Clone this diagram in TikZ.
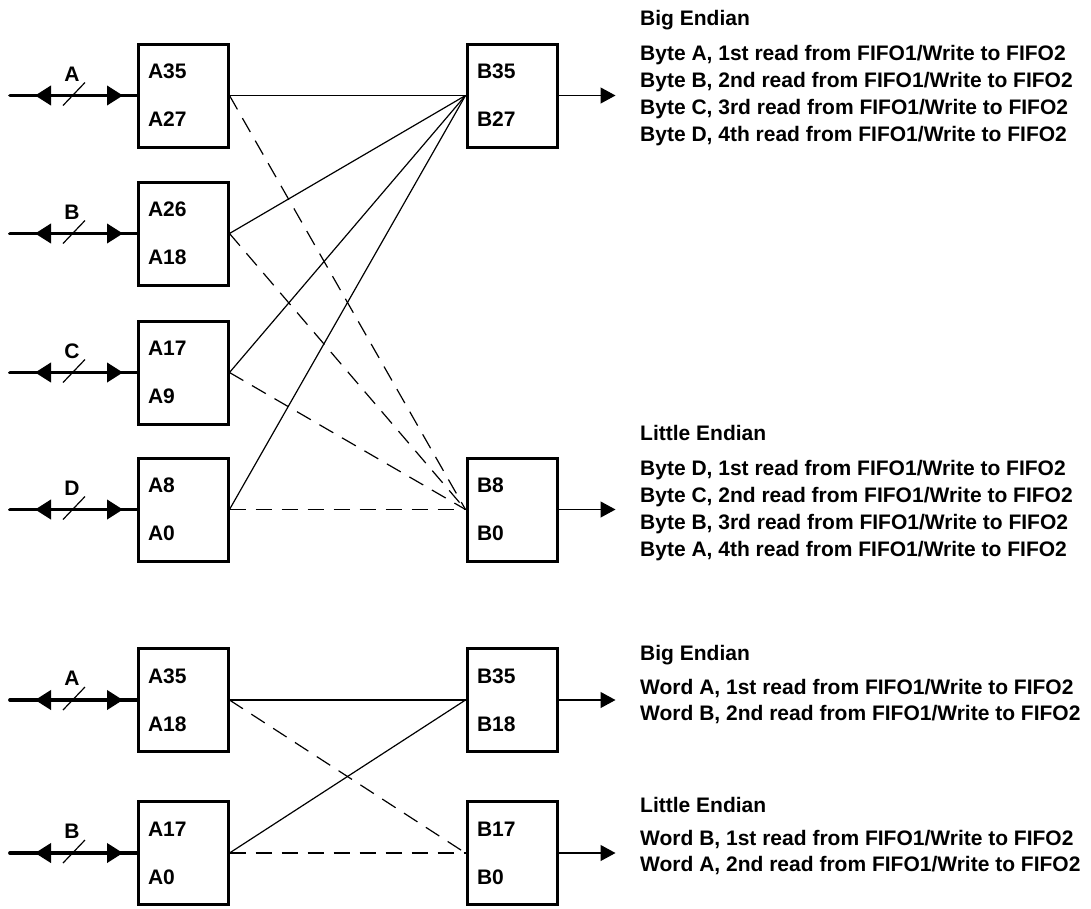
\documentclass[tikz,border=0pt]{standalone}
\usepackage{fontspec}
\setmainfont{Liberation Sans}
\usetikzlibrary{arrows.meta,decorations.markings}

\begin{document}
\begin{tikzpicture}[x=1pt, y=-1pt, >={Triangle[length=15pt,width=16pt]},
  every node/.style={font=\bfseries\fontsize{21}{48}\selectfont, inner sep=0pt},
  reg/.style={draw, line width=3pt, minimum height=103pt, text width=70pt, inner xsep=10pt, align=left},
  bus/.style={line width=3.8pt, line cap=round, postaction={decorate}, decoration={markings,
      mark=at position 25pt with {\arrowreversed{Triangle[length=16pt,width=19pt]}},
      mark=at position 113pt with {\arrow{Triangle[length=16pt,width=19pt]}}}},
  tick/.style={line width=1.2pt},
  wire/.style={line width=1.2pt},
  wired/.style={wire, dash pattern=on 16pt off 10pt},
  note/.style={anchor=base west}]
  \useasboundingbox (0,0) rectangle (1091,908);

  \node[reg] (inA) at (183,95.5) {A35\\A27};
  \node[reg] (inB) at (183,233.5) {A26\\A18};
  \node[reg] (inC) at (183,372.5) {A17\\A9};
  \node[reg] (inD) at (183,509.5) {A8\\A0};
  \node[reg] (outBig) at (512,95.5) {B35\\B27};
  \node[reg] (outLittle) at (512,509.5) {B8\\B0};

  \coordinate (busA) at (10,95.5);
  \coordinate (busB) at (10,233.5);
  \coordinate (busC) at (10,372.5);
  \coordinate (busD) at (10,509.5);
  \draw[bus] (busA) -- (inA.west);
  \draw[bus] (busB) -- (inB.west);
  \draw[bus] (busC) -- (inC.west);
  \draw[bus] (busD) -- (inD.west);
  \draw[tick] (busA) ++(53,10) -- ++(22,-23);
  \draw[tick] (busB) ++(53,10) -- ++(22,-23);
  \draw[tick] (busC) ++(53,10) -- ++(22,-23);
  \draw[tick] (busD) ++(53,10) -- ++(22,-23);
  \node[anchor=base] (labA) at ([shift={(62,-14.5)}]busA) {A};
  \node[anchor=base] (labB) at ([shift={(62,-14.5)}]busB) {B};
  \node[anchor=base] (labC) at ([shift={(62,-14.5)}]busC) {C};
  \node[anchor=base] (labD) at ([shift={(62,-14.5)}]busD) {D};

  \draw[wire] (inA.east) -- (outBig.west);
  \draw[wire] (inB.east) -- (outBig.west);
  \draw[wire] (inC.east) -- (outBig.west);
  \draw[wire] (inD.east) -- (outBig.west);
  \draw[wired] (inA.east) -- (outLittle.west);
  \draw[wired] (inB.east) -- (outLittle.west);
  \draw[wired] (inC.east) -- (outLittle.west);
  \draw[wired] (inD.east) -- (outLittle.west);
  \draw[wire,->] (outBig.east) -- ++(57,0);
  \draw[wire,->] (outLittle.east) -- ++(57,0);

  \node[note] (bigHead) at (640,25.5) {Big Endian};
  \node[note] (big1) at (640,60.5) {Byte A, 1st read from FIFO1/Write to FIFO2};
  \node[note] (big2) at (640,87.5) {Byte B, 2nd read from FIFO1/Write to FIFO2};
  \node[note] (big3) at (640,114.5) {Byte C, 3rd read from FIFO1/Write to FIFO2};
  \node[note] (big4) at (640,141.5) {Byte D, 4th read from FIFO1/Write to FIFO2};
  \node[note] (littleHead) at (640,440.5) {Little Endian};
  \node[note] (little1) at (640,475.5) {Byte D, 1st read from FIFO1/Write to FIFO2};
  \node[note] (little2) at (640,502.5) {Byte C, 2nd read from FIFO1/Write to FIFO2};
  \node[note] (little3) at (640,529.5) {Byte B, 3rd read from FIFO1/Write to FIFO2};
  \node[note] (little4) at (640,556.5) {Byte A, 4th read from FIFO1/Write to FIFO2};

  \node[reg] (winA) at (183,700) {A35\\A18};
  \node[reg] (winB) at (183,853) {A17\\A0};
  \node[reg] (woutBig) at (512,700) {B35\\B18};
  \node[reg] (woutLittle) at (512,853) {B17\\B0};

  \coordinate (wbusA) at (10,700);
  \coordinate (wbusB) at (10,853);
  \draw[bus] (wbusA) -- (winA.west);
  \draw[bus] (wbusB) -- (winB.west);
  \draw[tick] (wbusA) ++(53,10) -- ++(22,-23);
  \draw[tick] (wbusB) ++(53,10) -- ++(22,-23);
  \node[anchor=base] (wlabA) at ([shift={(62,-14.5)}]wbusA) {A};
  \node[anchor=base] (wlabB) at ([shift={(62,-14.5)}]wbusB) {B};

  \draw[wire] (winA.east) -- (woutBig.west);
  \draw[wire] (winB.east) -- (woutBig.west);
  \draw[wired] (winA.east) -- (woutLittle.west);
  \draw[wired] (winB.east) -- (woutLittle.west);
  \draw[wire,->] (woutBig.east) -- ++(57,0);
  \draw[wire,->] (woutLittle.east) -- ++(57,0);

  \node[note] (wbigHead) at (640,660.5) {Big Endian};
  \node[note] (wbig1) at (640,694.5) {Word A, 1st read from FIFO1/Write to FIFO2};
  \node[note] (wbig2) at (640,720.5) {Word B, 2nd read from FIFO1/Write to FIFO2};
  \node[note] (wlittleHead) at (640,812.5) {Little Endian};
  \node[note] (wlittle1) at (640,845.5) {Word B, 1st read from FIFO1/Write to FIFO2};
  \node[note] (wlittle2) at (640,871.5) {Word A, 2nd read from FIFO1/Write to FIFO2};
\end{tikzpicture}
\end{document}
